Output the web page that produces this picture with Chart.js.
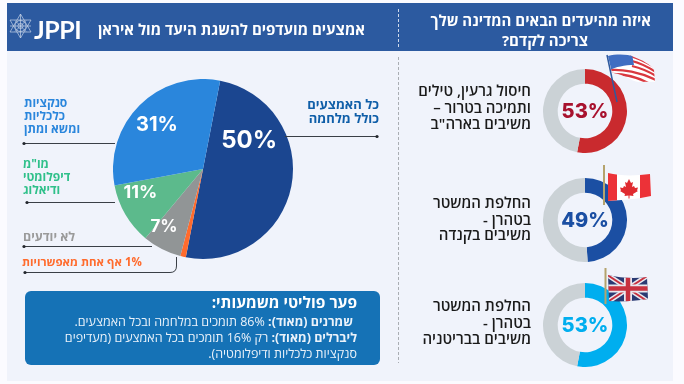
<!DOCTYPE html>
<html lang="he"><head><meta charset="utf-8">
<script src="https://cdn.jsdelivr.net/npm/chart.js@4/dist/chart.umd.min.js"></script>
<style>
html,body{margin:0;padding:0;background:#fbfbff;width:684px;height:384px;overflow:hidden}
#stage{position:relative;width:684px;height:384px;font-family:"Open Sans","Liberation Sans",sans-serif}
.abs{position:absolute}
.t{position:absolute;white-space:nowrap;transform:translateY(-50%);line-height:1;direction:rtl}
.r{text-align:right}.b{font-weight:700}
canvas{position:absolute}
svg{position:absolute;left:0;top:0}
</style></head><body>
<div id="stage">
<div class="abs" style="left:7px;top:51px;width:666px;height:330px;background:#f0f3fb"></div>
<div class="abs" style="left:7px;top:3px;width:666px;height:48px;background:#2c5aa0"></div>
<div class="abs" style="left:25px;top:291px;width:355px;height:74px;background:#1572b6;border-radius:6px"></div>

<canvas id="pie" width="180" height="180" style="left:113px;top:79px"></canvas>
<canvas id="d1" width="84" height="84" style="left:543px;top:69px"></canvas>
<canvas id="d2" width="84" height="84" style="left:543px;top:178px"></canvas>
<canvas id="d3" width="84" height="84" style="left:543px;top:283px"></canvas>

<svg width="684" height="384" viewBox="0 0 684 384">
 <defs>
  <clipPath id="wave1"><path d="M608 56C616 54 628 54 634 57C642 60 650 64 654 70L655 82C645 81 638 84 630 79C622 75 616 73 612 73Z"/></clipPath>
  <clipPath id="wave2"><path d="M608 173C620 176 635 176 650 174L651 196C638 199 622 200 608 201Z"/></clipPath>
  <clipPath id="wave3"><path d="M608 275C620 278 635 279 647 277L648 299C635 301 620 302 609 301Z"/></clipPath>
 </defs>
 <!-- dividers -->
 <line x1="398.500" y1="9" x2="398.500" y2="48" stroke="#cdd8ea" stroke-width="1" stroke-dasharray="3 2"/>
 <line x1="398.500" y1="57" x2="398.500" y2="363" stroke="#a9adb3" stroke-width="1" stroke-dasharray="3 2"/>
 <!-- logo star -->
 <g fill="none" stroke="#c5d2e6" stroke-width=".7">
  <path d="M20.500 14L31 32H10Z"/><path d="M20.500 38L10 20H31Z"/>
  <circle cx="20.500" cy="26" r="5.500"/><circle cx="20.500" cy="26" r="2.600"/>
  <path d="M15 20.500L26 31.500M26 20.500L15 31.500M20.500 14V38M10 26H31"/>
 </g>
 <!-- leaders -->
 <g fill="none" stroke="#3a3f46" stroke-width="1">
  <path d="M285 136.500H377"/><path d="M24 143.500H115"/><path d="M27 202.500H115"/><path d="M24 246.500H152"/>
  <path d="M25 272.500H170Q176.500 272.500 176.500 266V257"/>
 </g>
 <g fill="#22262c">
  <circle cx="377" cy="136.500" r="1.600"/><circle cx="24" cy="143.500" r="1.600"/><circle cx="27" cy="202.500" r="1.600"/><circle cx="24" cy="246.500" r="1.600"/><circle cx="25" cy="272.500" r="1.600"/>
 </g>
 <!-- US flag -->
 <g clip-path="url(#wave1)">
  <rect x="604" y="50" width="55" height="36" fill="#fff"/>
  <g stroke="#d9383f" stroke-width="2.300" fill="none">
   <path d="M630 56C638 58 646 62 656 68"/><path d="M632 61C640 63 648 67 656 72"/><path d="M632 66C640 68 648 71 656 76"/><path d="M610 70C622 69 640 72 656 80"/><path d="M612 74C622 74 636 76 650 84"/>
  </g>
  <path d="M606 54H632L634 65C625 65 615 67 610 70Z" fill="#3f6ec2"/>
 </g>
 <line x1="607" y1="55" x2="617" y2="102" stroke="#2f5a9e" stroke-width="1.500"/>
 <!-- Canada flag -->
 <g clip-path="url(#wave2)">
  <rect x="606" y="170" width="47" height="33" fill="#fff"/>
  <rect x="606" y="170" width="11" height="33" fill="#ec3238"/>
  <rect x="640" y="170" width="13" height="33" fill="#ec3238"/>
  <path d="M629 179l2 4 2-1-1 5 2-1 1 2 3-.5-1 3 1 .5-5 3 .5 2-4-.6v3h-1v-3l-4 .6.5-2-5-3 1-.5-1-3 3 .5 1-2 2 1-1-5 2 1Z" fill="#e02b30"/>
 </g>
 <line x1="604" y1="165" x2="604" y2="205" stroke="#b5a36d" stroke-width="2"/>
 <!-- UK flag -->
 <g clip-path="url(#wave3)">
  <rect x="606" y="272" width="45" height="33" fill="#2a3a73"/>
  <path d="M606 274L650 303M650 274L606 303" stroke="#e8e8ee" stroke-width="5"/>
  <path d="M606 274L650 303M650 274L606 303" stroke="#c8313f" stroke-width="1.800"/>
  <path d="M628 272V305M606 288.500H650" stroke="#e8e8ee" stroke-width="8"/>
  <path d="M628 272V305M606 288.500H650" stroke="#c8313f" stroke-width="4.500"/>
 </g>
 <line x1="605.500" y1="268" x2="605.500" y2="304" stroke="#b5a36d" stroke-width="2"/>
</svg>

<div class="t b" style="left:34px;top:29px;font-family:Lato,sans-serif;font-size:25px;color:#fff;direction:ltr;font-weight:700;letter-spacing:-.5px">JPPI</div>
<div class="t b" style="right:319px;top:29px;font-size:15px;color:#fff">אמצעים מועדפים להשגת היעד מול איראן</div>
<div class="t b" style="right:33px;top:20px;font-size:15px;color:#fff">איזה מהיעדים הבאים המדינה שלך</div>
<div class="t b" style="right:96px;top:40px;font-size:15px;color:#fff">צריכה לקדם?</div>

<div class="t b" style="right:305px;top:104px;font-size:13px;color:#0f5ea8">כל האמצעים</div>
<div class="t b" style="right:305px;top:118px;font-size:13px;color:#0f5ea8">כולל מלחמה</div>
<div class="t b" style="left:24px;top:103px;font-size:12px;color:#2a86dc">סנקציות</div>
<div class="t b" style="left:24px;top:116px;font-size:12px;color:#2a86dc">כלכליות</div>
<div class="t b" style="left:24px;top:129px;font-size:12px;color:#2a86dc">ומשא ומתן</div>
<div class="t b" style="left:23px;top:164px;font-size:12px;color:#2fc08a">מו"מ</div>
<div class="t b" style="left:23px;top:177px;font-size:12px;color:#2fc08a">דיפלומטי</div>
<div class="t b" style="left:23px;top:190px;font-size:12px;color:#2fc08a">ודיאלוג</div>
<div class="t b" style="left:23px;top:237px;font-size:12.500px;color:#9a9a9a">לא יודעים</div>
<div class="t b" style="left:22px;top:262px;font-size:11.500px;color:#ff6b2d">1% אף אחת מאפשרויות</div>

<div class="t b" style="right:327px;top:303px;font-size:15.500px;color:#fff">פער פוליטי משמעותי:</div>
<div class="t" style="right:331px;top:322px;font-size:12.500px;color:#eaf2fa"><b>שמרנים (מאוד):</b> 86% תומכים במלחמה ובכל האמצעים.</div>
<div class="t" style="right:327px;top:338px;font-size:12.500px;color:#eaf2fa"><b>ליברלים (מאוד):</b> רק 16% תומכים בכל האמצעים (מעדיפים</div>
<div class="t" style="right:327px;top:354px;font-size:12.500px;color:#eaf2fa">סנקציות כלכליות ודיפלומטיה).</div>

<div class="t" style="right:153px;top:90px;font-size:15px;font-weight:600;color:#1a1a1a">חיסול גרעין, טילים</div>
<div class="t" style="right:153px;top:107px;font-size:15px;font-weight:600;color:#1a1a1a">ותמיכה בטרור –</div>
<div class="t" style="right:153px;top:123px;font-size:15px;font-weight:600;color:#1a1a1a">משיבים בארה"ב</div>
<div class="t" style="right:153px;top:202px;font-size:15px;font-weight:600;color:#1a1a1a">החלפת המשטר</div>
<div class="t" style="right:153px;top:219px;font-size:15px;font-weight:600;color:#1a1a1a">בטהרן -</div>
<div class="t" style="right:153px;top:234px;font-size:15px;font-weight:600;color:#1a1a1a">משיבים בקנדה</div>
<div class="t" style="right:153px;top:305px;font-size:15px;font-weight:600;color:#1a1a1a">החלפת המשטר</div>
<div class="t" style="right:153px;top:322px;font-size:15px;font-weight:600;color:#1a1a1a">בטהרן -</div>
<div class="t" style="right:153px;top:338px;font-size:15px;font-weight:600;color:#1a1a1a">משיבים בבריטניה</div>
</div>
<script>
const pieCategories = ["כל האמצעים כולל מלחמה","אף אחת מאפשרויות","לא יודעים","מו\"מ דיפלומטי ודיאלוג","סנקציות כלכליות ומשא ומתן"];
const pieValues = [50, 1, 7, 11, 31];
const pieColors = ["#1b4690","#ff6b2d","#919596","#5cba8c","#2a86dc"];
const donutLabels = ["כן","אחר"];
const usaValues = [53, 47];
const canadaValues = [49, 51];
const britainValues = [53, 47];
const usaColors = ["#c92a2e","#cbd2d6"];
const canadaColors = ["#1b4fa3","#cbd2d6"];
const britainColors = ["#00aeef","#cbd2d6"];

const FONT = 'Inter, "Open Sans", sans-serif';
/* label placement relative to the pie centre: [clockwise degrees from top, radius, font px] */
const pieLabelPlace = [[58.6,54,24],null,[213.9,70,17],[249,67,18],[314,64,20]];

const pieLabels = {
  id:'pieLabels',
  afterDatasetsDraw(chart){
    const {ctx} = chart, arcs = chart.getDatasetMeta(0).data;
    ctx.save(); ctx.fillStyle='#fff'; ctx.textAlign='center'; ctx.textBaseline='middle';
    pieValues.forEach((v,i)=>{
      const p = pieLabelPlace[i]; if(!p) return;
      const a = p[0]*Math.PI/180;
      ctx.font = '700 '+p[2]+'px '+FONT;
      ctx.fillText(v+'%', arcs[i].x+p[1]*Math.sin(a), arcs[i].y-p[1]*Math.cos(a));
    });
    ctx.restore();
  }
};
new Chart(document.getElementById('pie'),{
  type:'pie',
  data:{labels:pieCategories,datasets:[{data:pieValues,backgroundColor:pieColors,borderWidth:0}]},
  options:{responsive:false,animation:false,rotation:11,layout:{padding:0},
    plugins:{legend:{display:false},tooltip:{enabled:false}}},
  plugins:[pieLabels]
});

function donut(id, values, colors, textColor){
  new Chart(document.getElementById(id),{
    type:'doughnut',
    data:{labels:donutLabels,datasets:[{data:values,backgroundColor:colors,borderWidth:0}]},
    options:{responsive:false,animation:false,cutout:'65%',layout:{padding:0},
      plugins:{legend:{display:false},tooltip:{enabled:false}}},
    plugins:[{id:'centerText',afterDatasetsDraw(chart){
      const {ctx} = chart, a = chart.getDatasetMeta(0).data[0];
      ctx.save(); ctx.fillStyle=textColor; ctx.textAlign='center'; ctx.textBaseline='middle';
      ctx.font='800 20px '+FONT; ctx.fillText(values[0]+'%',a.x,a.y+1); ctx.restore();
    }}]
  });
}
donut('d1',usaValues,usaColors,'#a8122e');
donut('d2',canadaValues,canadaColors,'#1b4fa3');
donut('d3',britainValues,britainColors,'#00aeef');
</script>
</body></html>
